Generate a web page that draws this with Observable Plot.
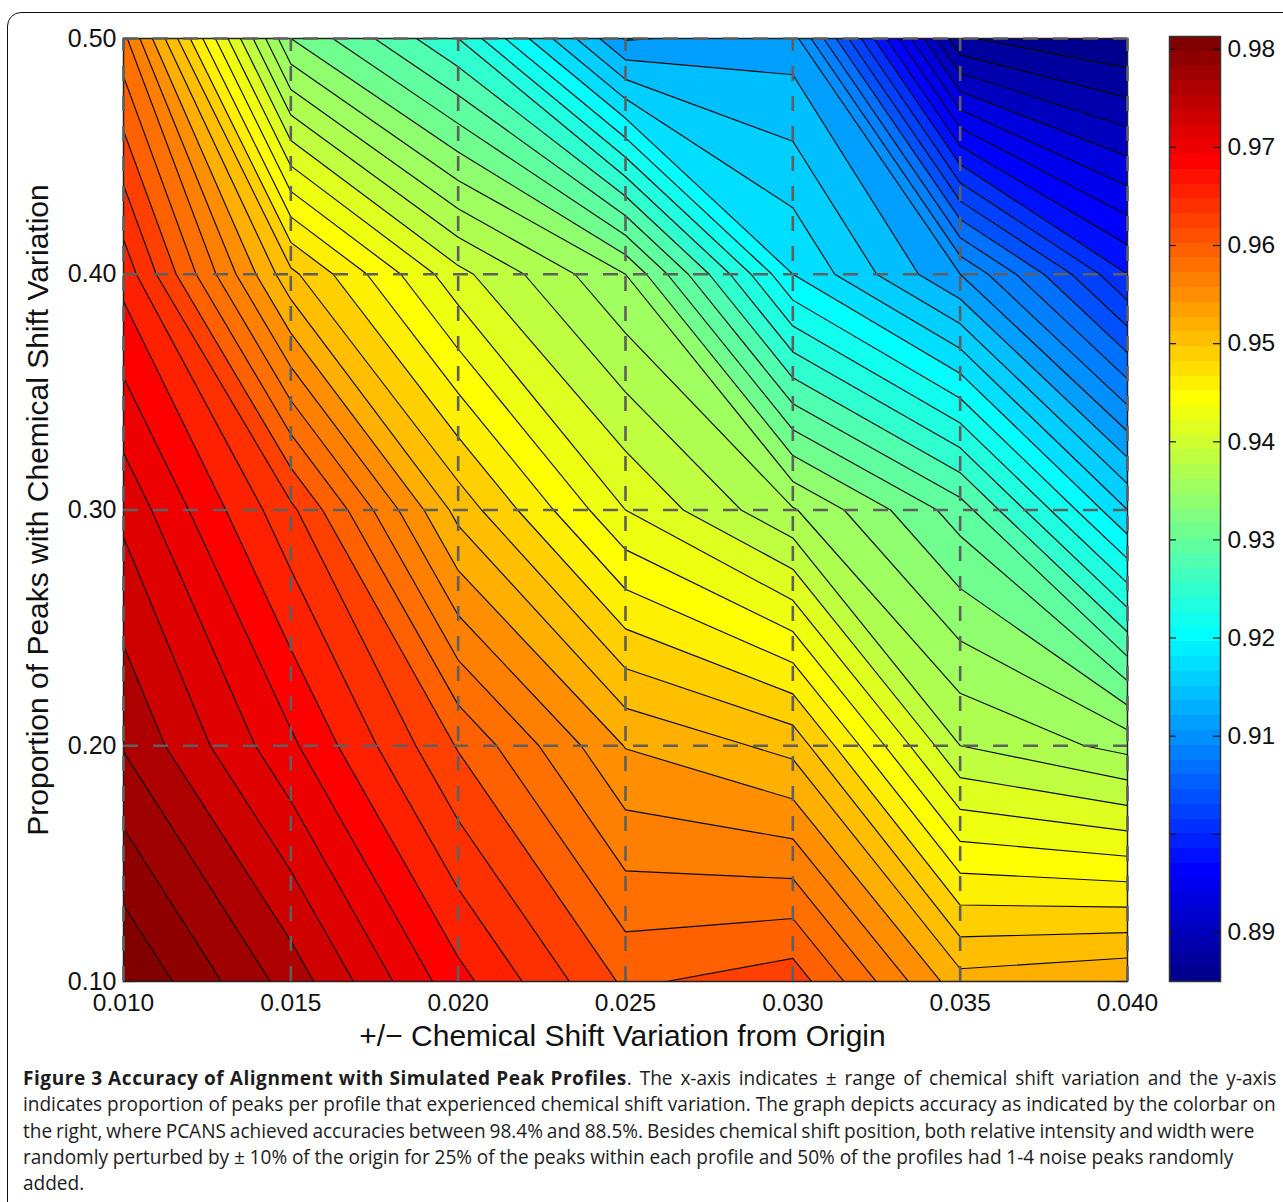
<!DOCTYPE html>
<html>
<head>
<meta charset="utf-8">
<script src="https://cdn.jsdelivr.net/npm/d3@7"></script>
<script src="https://cdn.jsdelivr.net/npm/@observablehq/plot@0.6"></script>
<style>
html,body{margin:0;padding:0;background:#fff;width:1283px;height:1202px;overflow:hidden}
#page{position:relative;width:1283px;height:1202px;overflow:hidden}
#card{position:absolute;left:7px;top:12px;width:1400px;height:1400px;border:1.5px solid #111;border-radius:14px;box-sizing:border-box}
#main,#bar{position:absolute;top:0}
#main{left:0}
#bar{left:1130px}
#caption{position:absolute;left:23px;top:1065px;font:19.05px/26.3px "Open Sans",sans-serif;color:#1c1c1c;white-space:nowrap}
#caption b{font-weight:700;letter-spacing:.55px}
#caption .wide{word-spacing:2.9px}
#caption .l3{word-spacing:-1.05px}
#caption .l4{word-spacing:-.15px}
svg{background:transparent!important;display:block}
</style>
</head>
<body>
<div id="page">
<div id="card"></div>
<div id="main"></div>
<div id="bar"></div>
<div id="caption">
<div><b>Figure 3 Accuracy of Alignment with Simulated Peak Profiles</b><span class="wide">. The x-axis indicates ± range of chemical shift variation and the y-axis</span></div>
<div>indicates proportion of peaks per profile that experienced chemical shift variation. The graph depicts accuracy as indicated by the colorbar on</div>
<div class="l3">the right, where PCANS achieved accuracies between 98.4% and 88.5%. Besides chemical shift position, both relative intensity and width were</div>
<div class="l4">randomly perturbed by ± 10% of the origin for 25% of the peaks within each profile and 50% of the profiles had 1-4 noise peaks randomly</div>
<div>added.</div>
</div>
</div>
<script>
const shiftValues = [0.010, 0.015, 0.020, 0.025, 0.030, 0.035, 0.040];
const proportionValues = [0.10, 0.20, 0.30, 0.40, 0.50];
const accuracyAt10 = [0.98323, 0.97664, 0.96850, 0.96168, 0.96316, 0.95318, 0.95419];
const accuracyAt20 = [0.97730, 0.97015, 0.96187, 0.95424, 0.95176, 0.93893, 0.93633];
const accuracyAt30 = [0.97312, 0.96445, 0.95174, 0.94278, 0.93720, 0.93027, 0.91775];
const accuracyAt40 = [0.96713, 0.95097, 0.94144, 0.93508, 0.91967, 0.91197, 0.90041];
const accuracyAt50 = [0.95877, 0.93315, 0.92545, 0.91178, 0.91284, 0.88712, 0.88500];
const barTicks = [0.89, 0.90, 0.91, 0.92, 0.93, 0.94, 0.95, 0.96, 0.97, 0.98];
const barLabels = [0.89, 0.91, 0.92, 0.93, 0.94, 0.95, 0.96, 0.97, 0.98];
const xLabel = "+/\u2212 Chemical Shift Variation from Origin";
const yLabel = "Proportion of Peaks with Chemical Shift Variation";

const accuracy = [...accuracyAt10, ...accuracyAt20, ...accuracyAt30, ...accuracyAt40, ...accuracyAt50];
const vMin = 0.885, vMax = 0.9813, nLevels = 51, nColors = 64;
const step = (vMax - vMin) / (nLevels - 1);
const fillLevels = d3.range(nLevels).map(i => vMin + i * step - (i === 0 ? 1e-6 : 0));
const lineLevels = fillLevels.slice(1);
const colorCells = d3.range(nColors);

const clamp01 = v => Math.max(0, Math.min(1, v));
function jet(i) {
  const x = (i + 1) / nColors;
  const r = clamp01(Math.min(4 * x - 1.5, -4 * x + 4.5));
  const g = clamp01(Math.min(4 * x - 0.5, -4 * x + 3.5));
  const b = clamp01(Math.min(4 * x + 0.5, -4 * x + 2.5));
  return `rgb(${Math.round(r * 255)},${Math.round(g * 255)},${Math.round(b * 255)})`;
}
const jetAt = t => jet(Math.max(0, Math.min(nColors - 1, Math.floor(t * nColors + 1e-6))));

const grid = {
  width: shiftValues.length, height: proportionValues.length,
  x1: 0.0075, x2: 0.0425, y1: 0.05, y2: 0.55, clip: true
};
const dash = {stroke: "#5f5f5f", strokeWidth: 2.6, strokeDasharray: "15 15"};
const TICK_W = 943 - 12, TICK_H = 1004 - 12;

const main = Plot.plot({
  width: 1283, height: 1060,
  marginLeft: 123, marginRight: 156, marginTop: 38, marginBottom: 79,
  style: {fontFamily: "'Liberation Sans',Arial,sans-serif", background: "transparent", color: "#111"},
  x: {domain: [0.010, 0.040], label: null},
  y: {domain: [0.10, 0.50], label: null},
  color: {type: "linear", domain: [vMin, vMax], interpolate: jetAt},
  marks: [
    Plot.frame({fill: jetAt(0), stroke: "none"}),
    Plot.contour(accuracy, {...grid, fill: Plot.identity, stroke: "none", thresholds: fillLevels}),
    Plot.contour(accuracy, {...grid, fill: "none", stroke: "#0a0a0a", strokeWidth: 1.15, thresholds: lineLevels}),
    Plot.ruleX(shiftValues, {x: d => d, insetTop: TICK_W, stroke: "#111", strokeWidth: 1.2}),
    Plot.ruleX(shiftValues, {x: d => d, insetBottom: TICK_W, stroke: "#111", strokeWidth: 1.2}),
    Plot.ruleY(proportionValues, {y: d => d, insetRight: TICK_H, stroke: "#111", strokeWidth: 1.2}),
    Plot.ruleY(proportionValues, {y: d => d, insetLeft: TICK_H, stroke: "#111", strokeWidth: 1.2}),
    Plot.frame({stroke: "#222", strokeWidth: 1.5}),
    Plot.ruleX(shiftValues, {x: d => d, y1: 0.10, y2: 0.50, ...dash}),
    Plot.ruleY(proportionValues.slice(1), {y: d => d, x1: 0.010, x2: 0.040, ...dash}),
    Plot.axisX({ticks: shiftValues, tickFormat: ".3f", tickSize: 0, tickPadding: 12, fontSize: 24.5, label: null}),
    Plot.axisY({ticks: proportionValues, tickFormat: ".2f", tickSize: 0, tickPadding: 7, fontSize: 25, label: null}),
    Plot.text([xLabel], {text: d => d, frameAnchor: "bottom", dx: -3, dy: 64, fontSize: 30, fill: "#111"}),
    Plot.text([yLabel], {text: d => d, frameAnchor: "left", textAnchor: "middle", dx: -85, rotate: -90, fontSize: 30, fill: "#111"})
  ]
});
document.getElementById("main").append(main);

const cellH = (vMax - vMin) / nColors;
const bar = Plot.plot({
  width: 153, height: 1060,
  marginLeft: 39, marginRight: 63, marginTop: 36, marginBottom: 79,
  style: {fontFamily: "'Liberation Sans',Arial,sans-serif", background: "transparent", color: "#111"},
  x: {domain: [0, 1], axis: null},
  y: {domain: [vMin, vMax], label: null, axis: null},
  marks: [
    Plot.rect(colorCells, {
      x1: 0, x2: 1,
      y1: i => vMin + i * cellH, y2: i => vMin + (i + 1) * cellH,
      fill: i => jet(i), shapeRendering: "crispEdges"
    }),
    Plot.ruleY(barTicks, {y: d => d, insetRight: 44, stroke: "#111", strokeWidth: 1.2}),
    Plot.ruleY(barTicks, {y: d => d, insetLeft: 44, stroke: "#111", strokeWidth: 1.2}),
    Plot.frame({stroke: "#333", strokeWidth: 1.5}),
    Plot.text(barLabels, {y: d => d, text: d => d.toFixed(2), frameAnchor: "right", textAnchor: "start", dx: 7, fontSize: 24.5, fill: "#111"})
  ]
});
document.getElementById("bar").append(bar);
</script>
</body>
</html>
